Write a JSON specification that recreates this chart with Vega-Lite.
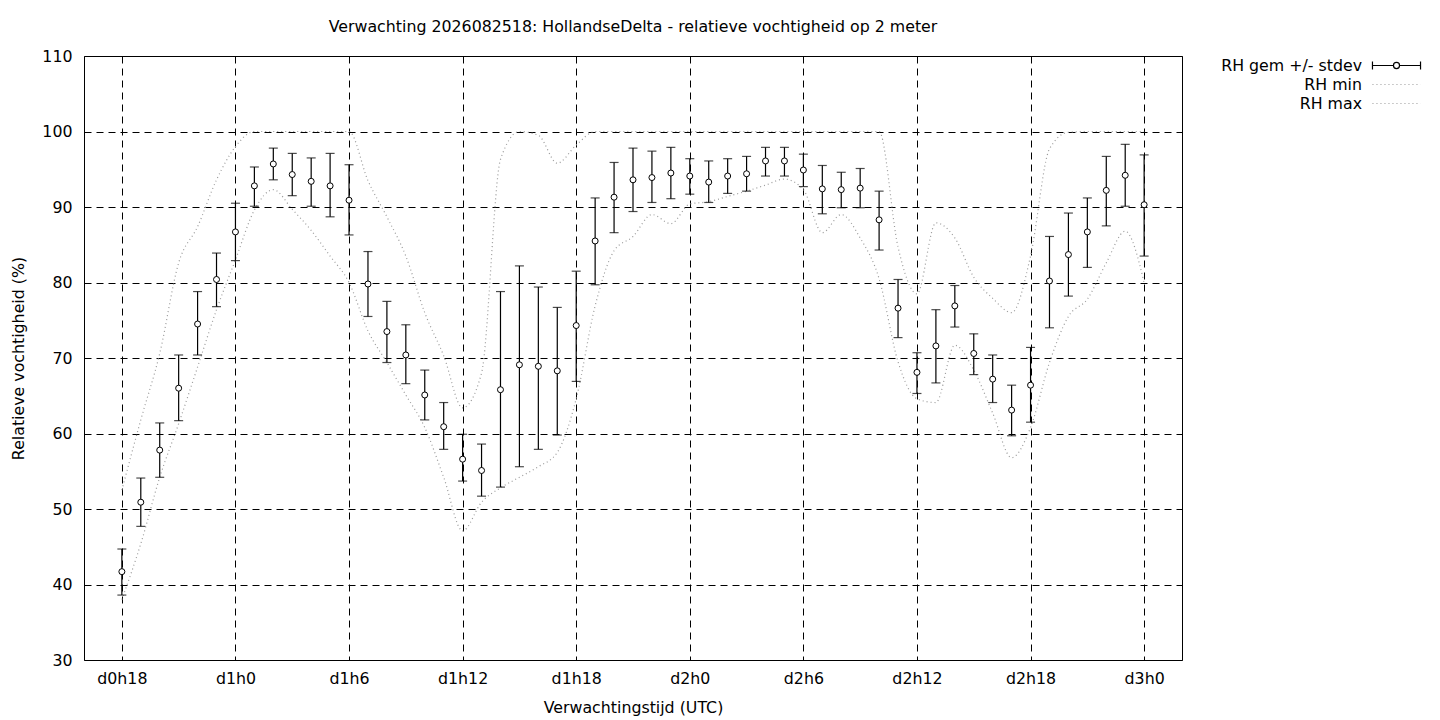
{
  "$schema": "https://vega.github.io/schema/vega-lite/v6.json",
  "width": 1098,
  "height": 604,
  "autosize": {"type": "none"},
  "padding": {"left": 84, "top": 56, "right": 258, "bottom": 60},
  "background": "white",
  "title": {
    "text": "Verwachting 2026082518: HollandseDelta - relatieve vochtigheid op 2 meter",
    "font": "DejaVu Sans",
    "fontSize": 15.8,
    "fontWeight": "normal",
    "color": "black",
    "anchor": "middle",
    "frame": "group",
    "baseline": "alphabetic",
    "offset": 0
  },
  "data": {
    "values": [
      {"h": 18, "mean": 41.7, "lo": 38.6, "hi": 44.7, "rh_min": 38.0, "rh_max": 52.5},
      {"h": 19, "mean": 50.9, "lo": 47.7, "hi": 54.1, "rh_min": 45.4, "rh_max": 61.8},
      {"h": 20, "mean": 57.8, "lo": 54.2, "hi": 61.4, "rh_min": 54.2, "rh_max": 70.6},
      {"h": 21, "mean": 66.0, "lo": 61.7, "hi": 70.4, "rh_min": 61.3, "rh_max": 82.6},
      {"h": 22, "mean": 74.5, "lo": 70.4, "hi": 78.8, "rh_min": 68.8, "rh_max": 87.4},
      {"h": 23, "mean": 80.4, "lo": 76.8, "hi": 83.9, "rh_min": 76.4, "rh_max": 93.6},
      {"h": 24, "mean": 86.7, "lo": 82.9, "hi": 90.5, "rh_min": 83.0, "rh_max": 98.0},
      {"h": 25, "mean": 92.8, "lo": 90.1, "hi": 95.3, "rh_min": 89.6, "rh_max": 100},
      {"h": 26, "mean": 95.7, "lo": 93.6, "hi": 97.8, "rh_min": 92.3, "rh_max": 100},
      {"h": 27, "mean": 94.3, "lo": 91.5, "hi": 97.1, "rh_min": 89.7, "rh_max": 100},
      {"h": 28, "mean": 93.4, "lo": 90.1, "hi": 96.5, "rh_min": 86.9, "rh_max": 100},
      {"h": 29, "mean": 92.8, "lo": 88.7, "hi": 97.1, "rh_min": 83.5, "rh_max": 100},
      {"h": 30, "mean": 90.9, "lo": 86.3, "hi": 95.6, "rh_min": 80.0, "rh_max": 100},
      {"h": 31, "mean": 79.8, "lo": 75.5, "hi": 84.1, "rh_min": 73.6, "rh_max": 93.5},
      {"h": 32, "mean": 73.5, "lo": 69.4, "hi": 77.5, "rh_min": 69.4, "rh_max": 88.7},
      {"h": 33, "mean": 70.4, "lo": 66.6, "hi": 74.4, "rh_min": 65.1, "rh_max": 83.5},
      {"h": 34, "mean": 65.1, "lo": 61.8, "hi": 68.4, "rh_min": 60.8, "rh_max": 76.0},
      {"h": 35, "mean": 60.9, "lo": 57.9, "hi": 64.1, "rh_min": 54.2, "rh_max": 70.3},
      {"h": 36, "mean": 56.6, "lo": 53.7, "hi": 59.9, "rh_min": 47.1, "rh_max": 63.4},
      {"h": 37, "mean": 55.1, "lo": 51.7, "hi": 58.6, "rh_min": 50.9, "rh_max": 68.0},
      {"h": 38, "mean": 65.8, "lo": 52.9, "hi": 78.8, "rh_min": 52.8, "rh_max": 96.3},
      {"h": 39, "mean": 69.1, "lo": 55.6, "hi": 82.2, "rh_min": 54.2, "rh_max": 100},
      {"h": 40, "mean": 68.9, "lo": 57.9, "hi": 79.4, "rh_min": 55.6, "rh_max": 99.5},
      {"h": 41, "mean": 68.3, "lo": 59.8, "hi": 76.7, "rh_min": 57.5, "rh_max": 95.8},
      {"h": 42, "mean": 74.3, "lo": 66.9, "hi": 81.5, "rh_min": 64.6, "rh_max": 98.2},
      {"h": 43, "mean": 85.5, "lo": 79.7, "hi": 91.2, "rh_min": 76.9, "rh_max": 100},
      {"h": 44, "mean": 91.3, "lo": 86.6, "hi": 95.9, "rh_min": 84.2, "rh_max": 100},
      {"h": 45, "mean": 93.6, "lo": 89.4, "hi": 97.8, "rh_min": 86.1, "rh_max": 100},
      {"h": 46, "mean": 93.9, "lo": 90.6, "hi": 97.4, "rh_min": 89.0, "rh_max": 100},
      {"h": 47, "mean": 94.5, "lo": 91.1, "hi": 97.9, "rh_min": 87.8, "rh_max": 100},
      {"h": 48, "mean": 94.1, "lo": 91.7, "hi": 96.4, "rh_min": 90.4, "rh_max": 100},
      {"h": 49, "mean": 93.3, "lo": 90.6, "hi": 96.1, "rh_min": 90.7, "rh_max": 100},
      {"h": 50, "mean": 94.1, "lo": 91.8, "hi": 96.4, "rh_min": 91.4, "rh_max": 100},
      {"h": 51, "mean": 94.4, "lo": 92.1, "hi": 96.7, "rh_min": 92.1, "rh_max": 100},
      {"h": 52, "mean": 96.1, "lo": 94.1, "hi": 97.9, "rh_min": 92.9, "rh_max": 100},
      {"h": 53, "mean": 96.1, "lo": 94.1, "hi": 97.9, "rh_min": 93.7, "rh_max": 100},
      {"h": 54, "mean": 94.9, "lo": 92.7, "hi": 97.0, "rh_min": 92.3, "rh_max": 100},
      {"h": 55, "mean": 92.4, "lo": 89.1, "hi": 95.5, "rh_min": 86.6, "rh_max": 100},
      {"h": 56, "mean": 92.3, "lo": 89.9, "hi": 94.6, "rh_min": 89.0, "rh_max": 100},
      {"h": 57, "mean": 92.5, "lo": 89.9, "hi": 95.1, "rh_min": 85.9, "rh_max": 100},
      {"h": 58, "mean": 88.3, "lo": 84.3, "hi": 92.1, "rh_min": 80.5, "rh_max": 100},
      {"h": 59, "mean": 76.6, "lo": 72.7, "hi": 80.4, "rh_min": 69.5, "rh_max": 84.7},
      {"h": 60, "mean": 68.1, "lo": 65.3, "hi": 70.7, "rh_min": 64.6, "rh_max": 78.5},
      {"h": 61, "mean": 71.6, "lo": 66.7, "hi": 76.4, "rh_min": 64.1, "rh_max": 87.9},
      {"h": 62, "mean": 76.9, "lo": 74.1, "hi": 79.6, "rh_min": 71.7, "rh_max": 85.9},
      {"h": 63, "mean": 70.6, "lo": 67.8, "hi": 73.2, "rh_min": 68.4, "rh_max": 80.7},
      {"h": 64, "mean": 67.2, "lo": 64.1, "hi": 70.4, "rh_min": 62.7, "rh_max": 77.9},
      {"h": 65, "mean": 63.1, "lo": 59.7, "hi": 66.4, "rh_min": 56.8, "rh_max": 76.0},
      {"h": 66, "mean": 66.4, "lo": 61.5, "hi": 71.4, "rh_min": 60.8, "rh_max": 83.5},
      {"h": 67, "mean": 80.2, "lo": 74.0, "hi": 86.1, "rh_min": 69.4, "rh_max": 97.7},
      {"h": 68, "mean": 83.7, "lo": 78.2, "hi": 89.2, "rh_min": 75.5, "rh_max": 99.9},
      {"h": 69, "mean": 86.7, "lo": 82.0, "hi": 91.2, "rh_min": 77.8, "rh_max": 100},
      {"h": 70, "mean": 92.2, "lo": 87.5, "hi": 96.7, "rh_min": 82.6, "rh_max": 100},
      {"h": 71, "mean": 94.2, "lo": 90.1, "hi": 98.3, "rh_min": 86.8, "rh_max": 100},
      {"h": 72, "mean": 90.3, "lo": 83.5, "hi": 96.9, "rh_min": 80.0, "rh_max": 100}
    ]
  },
  "encoding": {
    "x": {
      "field": "h",
      "type": "quantitative",
      "title": "Verwachtingstijd (UTC)",
      "scale": {"domain": [16, 74], "nice": false, "zero": false},
      "axis": {
        "values": [18, 24, 30, 36, 42, 48, 54, 60, 66, 72],
        "labelExpr": "'d' + floor(datum.value / 24) + 'h' + (datum.value % 24)",
        "labelPadding": 11,
        "titleY": 47,
        "titleBaseline": "middle"
      }
    }
  },
  "layer": [
    {
      "transform": [{"fold": ["rh_min", "rh_max"], "as": ["series", "rh"]}],
      "mark": {"type": "line", "interpolate": "monotone", "strokeDash": [1, 3], "strokeWidth": 1.2},
      "encoding": {
        "y": {"field": "rh", "type": "quantitative", "title": "Relatieve vochtigheid (%)"},
        "detail": {"field": "series"},
        "color": {
          "field": "series",
          "type": "nominal",
          "scale": {"domain": ["rh_gem", "rh_min", "rh_max"], "range": ["#000000", "#9a9a9a", "#9a9a9a"]},
          "legend": {
            "orient": "none",
            "legendX": 1302,
            "legendY": -1,
            "title": null,
            "padding": 0,
            "rowPadding": 0,
            "symbolSize": 361,
            "labelAlign": "right",
            "labelOffset": -45,
            "labelFont": "DejaVu Sans",
            "labelFontSize": 15.8,
            "labelColor": "black",
            "labelLimit": 300,
            "labelExpr": "datum.value == 'rh_gem' ? 'RH gem +/- stdev' : (datum.value == 'rh_min' ? 'RH min' : 'RH max')",
            "encode": {
              "symbols": {
                "update": {
                  "shape": {"signal": "datum.value == 'rh_gem' ? 'M-2.53,0H-0.32M0.32,0H2.53M-2.53,-0.42V0.42M2.53,-0.42V0.42M0.32,0A0.32,0.32,0,1,1,-0.32,0A0.32,0.32,0,1,1,0.32,0' : 'M-2.53,0H2.53'"},
                  "strokeDash": {"signal": "datum.value == 'rh_gem' ? [] : [1, 3]"},
                  "strokeWidth": {"value": 1.2},
                  "fill": {"value": "white"},
                  "opacity": {"value": 1}
                }
              }
            }
          }
        }
      }
    },
    {
      "mark": {"type": "rule", "color": "black", "strokeWidth": 1.2},
      "encoding": {
        "y": {"field": "lo", "type": "quantitative", "title": "Relatieve vochtigheid (%)"},
        "y2": {"field": "hi"}
      }
    },
    {
      "transform": [{"fold": ["lo", "hi"], "as": ["end", "v"]}],
      "mark": {"type": "tick", "orient": "horizontal", "color": "black", "size": 9, "thickness": 1.2},
      "encoding": {
        "y": {"field": "v", "type": "quantitative", "title": "Relatieve vochtigheid (%)"}
      }
    },
    {
      "mark": {"type": "point", "shape": "circle", "filled": true, "fill": "white", "stroke": "black", "strokeWidth": 1, "size": 36, "opacity": 1},
      "encoding": {
        "y": {
          "field": "mean",
          "type": "quantitative",
          "title": "Relatieve vochtigheid (%)",
          "scale": {"domain": [30, 110], "nice": false, "zero": false},
          "axis": {
            "values": [30, 40, 50, 60, 70, 80, 90, 100, 110],
            "labelPadding": 12,
            "titleX": -66,
            "titleY": 302,
            "titleBaseline": "middle",
            "titleAlign": "center"
          }
        }
      }
    }
  ],
  "config": {
    "view": {"stroke": "black", "strokeWidth": 1, "fill": "white"},
    "axis": {
      "labelFont": "DejaVu Sans",
      "labelFontSize": 15.8,
      "labelColor": "black",
      "titleFont": "DejaVu Sans",
      "titleFontSize": 15.8,
      "titleFontWeight": "normal",
      "titleColor": "black",
      "grid": true,
      "gridColor": "black",
      "gridOpacity": 1,
      "gridDash": [7, 5],
      "gridWidth": 1,
      "ticks": false,
      "domain": false
    }
  }
}
